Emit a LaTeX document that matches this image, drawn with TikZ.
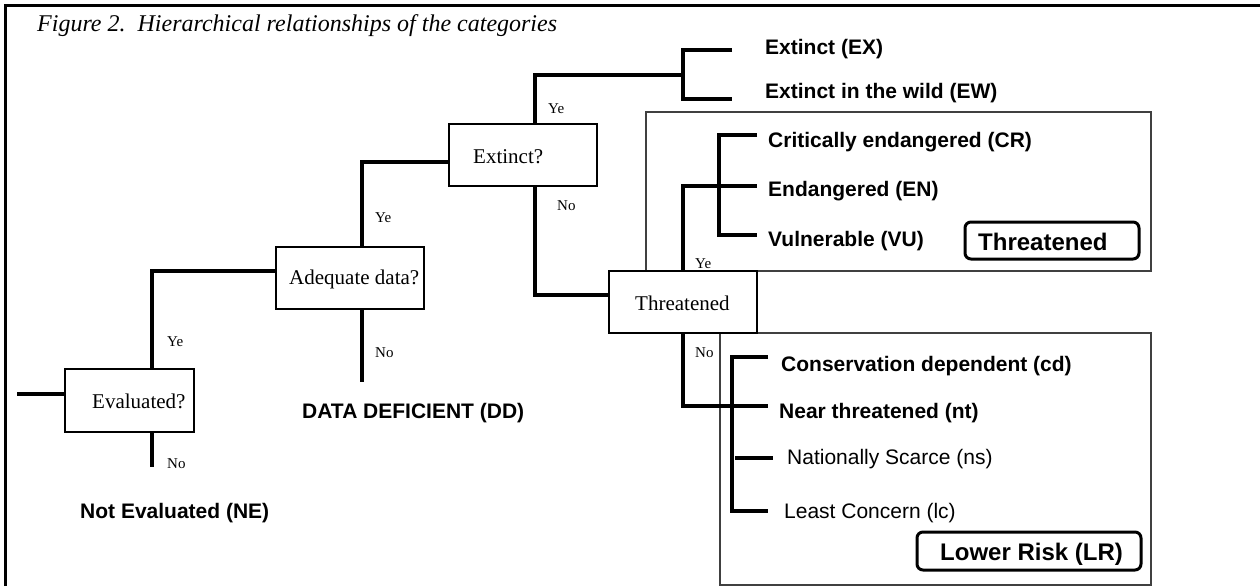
\documentclass[tikz,border=0pt]{standalone}
\usepackage{fontspec}
\setmainfont{Liberation Serif}
\setsansfont{Liberation Sans}
\begin{document}
\begin{tikzpicture}[x=1pt,y=-1pt,
 thk/.style={line width=3.8pt},
 qbox/.style={draw, line width=1.4pt, inner sep=0pt, fill=white},
 region/.style={draw=black!75, line width=1.1pt},
 rbox/.style={draw, line width=3pt, rounded corners=6pt, inner sep=0pt},
 frame/.style={line width=2.4pt},
 yn/.style={font=\fontsize{15}{18}\selectfont, anchor=base west, inner sep=0pt},
 qtxt/.style={font=\fontsize{21}{25}\selectfont, anchor=base west, inner sep=0pt},
 ttl/.style={font=\itshape\fontsize{24}{28}\selectfont, anchor=base west, inner sep=0pt},
 cat/.style={font=\sffamily\bfseries\fontsize{21}{25}\selectfont, anchor=base west, inner sep=0pt},
 catr/.style={font=\sffamily\fontsize{21}{25}\selectfont, anchor=base west, inner sep=0pt},
 big/.style={font=\sffamily\bfseries\fontsize{24}{28}\selectfont, anchor=base west, inner sep=0pt}]
\useasboundingbox (0,0) rectangle (1260,586);
% frame
\draw[frame] (5.5,586) -- (5.5,5.5) -- (1260,5.5);
\node[ttl] (title) at (37,32) {Figure 2.\ \ Hierarchical relationships of the categories};
% regions
\draw[region] (646,112) rectangle (1151,271);
\draw[region] (720,333) rectangle (1151,585);
% question boxes
\node[qbox, minimum width=129pt, minimum height=63pt] (ev) at (129.5,400.5) {};
\node[qtxt] (evt) at (92,408) {Evaluated?};
\node[qbox, minimum width=148pt, minimum height=62pt] (ad) at (350,278) {};
\node[qtxt] (adt) at (289,284) {Adequate data?};
\node[qbox, minimum width=148pt, minimum height=62pt] (ext) at (523,155) {};
\node[qtxt] (extt) at (473,163) {Extinct?};
\node[qbox, minimum width=148pt, minimum height=62pt] (th) at (683,302) {};
\node[qtxt] (tht) at (635,310) {Threatened};
% coordinates for free ends
\coordinate (start) at (17,394);
\coordinate (evno) at (152,467);
\coordinate (adno) at (362,382);
\coordinate (exj) at (683,75);
\coordinate (exA) at (732,50);
\coordinate (exB) at (732,99);
\coordinate (cr) at (757,135);
\coordinate (en) at (757,186);
\coordinate (vu) at (757,235);
\coordinate (cd) at (768,357);
\coordinate (nt) at (768,406);
\coordinate (nsA) at (735,458);
\coordinate (nsB) at (773,458);
\coordinate (lc) at (768,511);
% connectors
\draw[thk] (start) -- (ev.west |- start);
\draw[thk] ([xshift=22.5pt]ev.north) |- ([yshift=7pt]ad.west);
\draw[thk] ([xshift=22.5pt]ev.south) -- (evno);
\draw[thk] ([xshift=12pt]ad.north) |- ([yshift=-7pt]ext.west);
\draw[thk] ([xshift=12pt]ad.south) -- (adno);
\draw[thk] ([xshift=12pt]ext.north) |- (exj);
\draw[thk] (exA) -- ++(-49,0) |- (exB);
\draw[thk] ([xshift=12pt]ext.south) |- ([yshift=7pt]th.west);
\draw[thk] (th.north) |- (en);
\draw[thk] (cr) -- ++(-38,0) |- (vu);
\draw[thk] (th.south) |- (nt);
\draw[thk] (cd) -- ++(-36,0) |- (lc);
\draw[thk] (nsA) -- (nsB);
% yes / no labels
\node[yn] (ye1) at (167,346) {Ye};
\node[yn] (no1) at (167,468) {No};
\node[yn] (ye2) at (375,222) {Ye};
\node[yn] (no2) at (375,357) {No};
\node[yn] (ye3) at (548,113) {Ye};
\node[yn] (no3) at (557,210) {No};
\node[yn] (ye4) at (695,268) {Ye};
\node[yn] (no4) at (695,357) {No};
% categories
\node[cat] (ne) at (80,518) {Not Evaluated (NE)};
\node[cat] (dd) at (302,418) {DATA DEFICIENT (DD)};
\node[cat] (ex) at (765,55) {Extinct (EX)};
\node[cat] (ew) at (765,98) {Extinct in the wild (EW)};
\node[cat] (crt) at (768,147) {Critically endangered (CR)};
\node[cat] (ent) at (768,196) {Endangered (EN)};
\node[cat] (vut) at (768,246) {Vulnerable (VU)};
\node[cat] (cdt) at (781,371) {Conservation dependent (cd)};
\node[cat] (ntt) at (779,418) {Near threatened (nt)};
\node[catr] (nst) at (787,464) {Nationally Scarce (ns)};
\node[catr] (lct) at (784,518) {Least Concern (lc)};
% group labels
\node[rbox, minimum width=174pt, minimum height=37pt] (thg) at (1052,240.5) {};
\node[big] (thgt) at (978,250) {Threatened};
\node[rbox, minimum width=224pt, minimum height=38pt] (lrg) at (1029,551) {};
\node[big] (lrgt) at (940,560) {Lower Risk (LR)};
\end{tikzpicture}
\end{document}
